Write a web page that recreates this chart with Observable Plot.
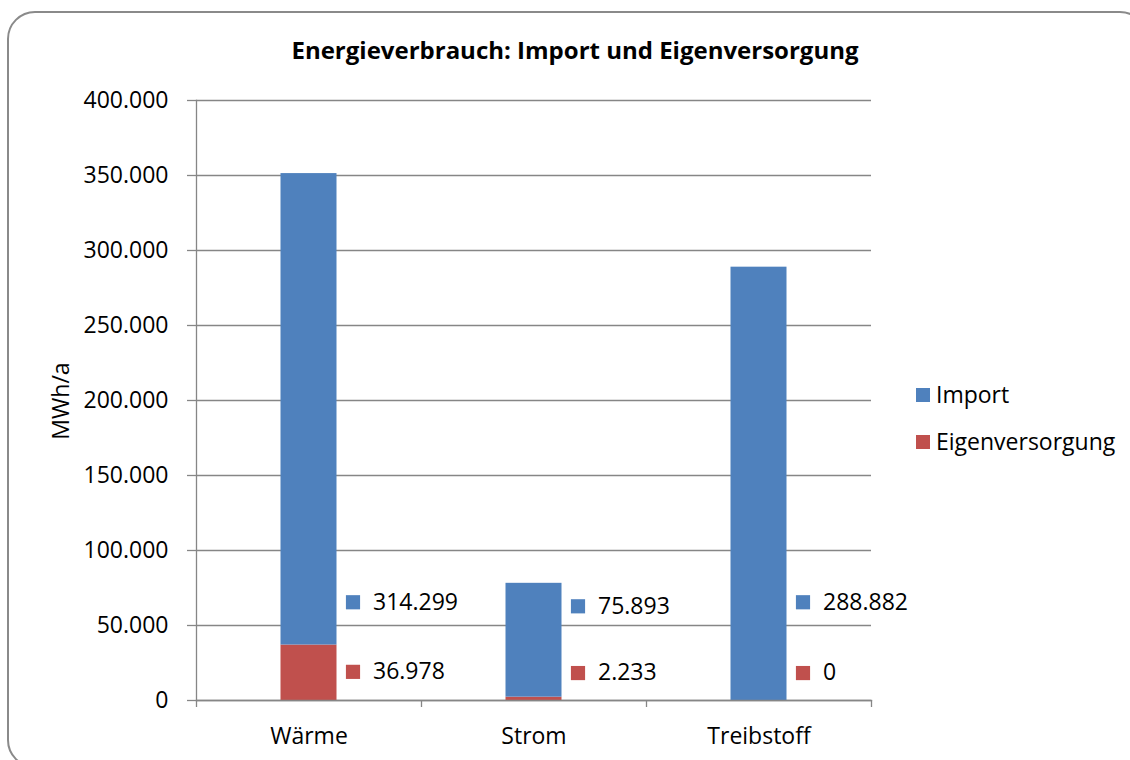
<!DOCTYPE html>
<html><head><meta charset="utf-8">
<script src="https://cdn.jsdelivr.net/npm/d3@7"></script>
<script src="https://cdn.jsdelivr.net/npm/@observablehq/plot@0.6"></script>
<style>
body{margin:0;background:#fff;}
#wrap{position:relative;width:1130px;height:760px;overflow:hidden;font-family:"Open Sans",sans-serif;color:#000;}
#frame{position:absolute;left:7px;top:11px;width:1141px;height:757px;border:2px solid #8a8a8a;border-radius:28px;box-sizing:border-box;}
#chart{position:absolute;left:0;top:0;}
#title{position:absolute;left:0;width:1150px;top:33px;text-align:center;font-weight:bold;font-size:24px;line-height:normal;white-space:nowrap;}
#ylabel{position:absolute;left:60px;top:401px;transform:translate(-50%,-50%) rotate(-90deg);font-size:23px;line-height:1;white-space:nowrap;}
#legend{position:absolute;left:916px;top:0;font-size:23px;}
.li{position:absolute;left:0;display:flex;align-items:center;height:23px;line-height:1;white-space:nowrap;}
.sw{width:14px;height:14px;margin-right:6px;flex:none;}
</style>
</head><body>
<div id="wrap">
  <div id="frame"></div>
  <div id="chart"></div>
  <div id="title"></div>
  <div id="ylabel"></div>
  <div id="legend"></div>
</div>
<script>
const titleText = "Energieverbrauch: Import und Eigenversorgung";
const yLabel = "MWh/a";
const categories = ["Wärme", "Strom", "Treibstoff"];
const seriesNames = ["Import", "Eigenversorgung"];
const seriesColors = ["#4F81BD", "#C0504D"];
const importValues = [314299, 75893, 288882];
const eigenValues = [36978, 2233, 0];
const importLabelY = [65500, 62800, 65500];
const eigenLabelY = [19100, 18300, 18300];
const yTicks = [0, 50000, 100000, 150000, 200000, 250000, 300000, 350000, 400000];

const fmt = d3.formatLocale({decimal: ",", thousands: ".", grouping: [3], currency: ["", " €"]}).format(",d");

// long table: Eigenversorgung first so it stacks at the bottom
const rows = [];
categories.forEach((c, i) => {
  rows.push({cat: c, series: "Eigenversorgung", value: eigenValues[i], labelY: eigenLabelY[i]});
  rows.push({cat: c, series: "Import", value: importValues[i], labelY: importLabelY[i]});
});

const W = 1130, H = 760, ML = 196, MR = 259, MT = 100, MB = 60;
const step = (W - ML - MR) / categories.length;
const barW = 56;
const inset = (step - barW) / 2;
const gray = "#868686";

const chart = Plot.plot({
  width: W, height: H,
  marginLeft: ML, marginRight: MR, marginTop: MT, marginBottom: MB,
  style: {fontFamily: "'Open Sans', sans-serif", fontSize: "23px", color: "#000", background: "transparent"},
  x: {type: "band", domain: categories, padding: 0},
  y: {domain: [0, 400000]},
  color: {domain: seriesNames, range: seriesColors},
  marks: [
    Plot.gridY(yTicks, {stroke: gray, strokeOpacity: 1, strokeWidth: 1.3}),
    Plot.barY(rows, Plot.stackY({x: "cat", y: "value", fill: "series", insetLeft: inset, insetRight: inset, order: null})),
    Plot.frame({anchor: "left", stroke: gray, strokeWidth: 1.3}),
    Plot.frame({anchor: "bottom", stroke: gray, strokeWidth: 1.3}),
    Plot.ruleX(categories, {x: d => d, dx: -step / 2, insetTop: H - MT - MB, insetBottom: -7, stroke: gray, strokeWidth: 1.3}),
    Plot.ruleX(categories.slice(-1), {x: d => d, dx: step / 2, insetTop: H - MT - MB, insetBottom: -7, stroke: gray, strokeWidth: 1.3}),
    Plot.axisY(yTicks, {tickSize: 9, tickPadding: 19, tickFormat: fmt, stroke: gray, strokeWidth: 1.3, label: null, fontSize: 23}),
    Plot.axisX({tickSize: 0, tickPadding: 27, label: null, fontSize: 23}),
    Plot.dot(rows, {x: "cat", y: "labelY", fill: "series", symbol: "square", r: 8, dx: 44}),
    Plot.text(rows, {x: "cat", y: "labelY", text: d => fmt(d.value), dx: 64, textAnchor: "start", fill: "#000", fontSize: 23})
  ]
});
document.getElementById("chart").appendChild(chart);

document.getElementById("title").textContent = titleText;
document.getElementById("ylabel").textContent = yLabel;
const legend = document.getElementById("legend");
const legendTops = [383, 430];
seriesNames.forEach((s, i) => {
  const item = document.createElement("div");
  item.className = "li";
  item.style.top = legendTops[i] + "px";
  const sw = document.createElement("span");
  sw.className = "sw";
  sw.style.background = seriesColors[i];
  const t = document.createElement("span");
  t.textContent = s;
  item.appendChild(sw); item.appendChild(t);
  legend.appendChild(item);
});
</script>
</body></html>
